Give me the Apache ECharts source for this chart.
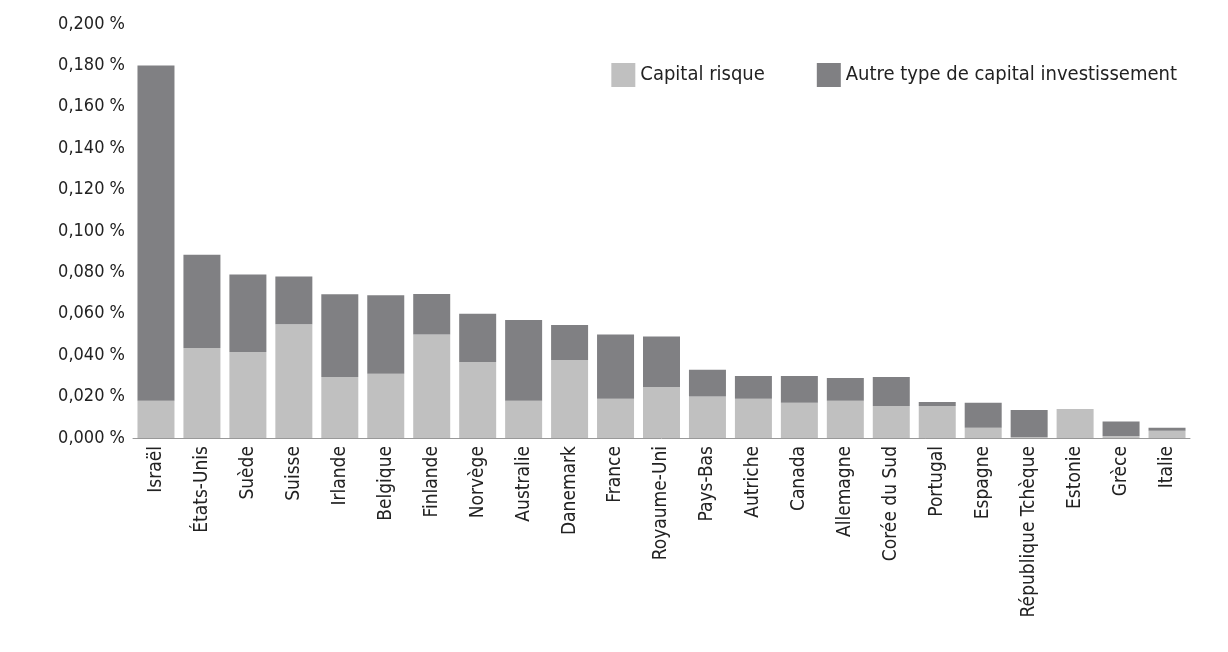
<!DOCTYPE html>
<html><head><meta charset="utf-8">
<script src="https://cdn.jsdelivr.net/npm/echarts@6/dist/echarts.min.js"></script>
<style>body{margin:0;background:#fff}#main{width:1228px;height:652px}</style>
</head><body>
<div id="main"></div>
<script>
var pays = ['Israël','États-Unis','Suède','Suisse','Irlande','Belgique','Finlande','Norvège','Australie','Danemark','France','Royaume-Uni','Pays-Bas','Autriche','Canada','Allemagne','Corée du Sud','Portugal','Espagne','République Tchèque','Estonie','Grèce','Italie'];
var capitalRisque = [0.018,0.0435,0.0415,0.055,0.0295,0.031,0.050,0.0367,0.018,0.0377,0.019,0.0246,0.020,0.019,0.017,0.018,0.0155,0.0155,0.005,0.0005,0.014,0.001,0.0035];
var autreType = [0.162,0.045,0.0375,0.023,0.040,0.038,0.0196,0.0233,0.039,0.0169,0.031,0.0244,0.013,0.011,0.013,0.011,0.014,0.0019,0.012,0.013,0,0.007,0.0015];
var ff = '"Liberation Sans Narrow","DejaVu Sans Condensed",sans-serif';
var chart = echarts.init(document.getElementById('main'));
chart.setOption({
  animation: false,
  textStyle: {fontFamily: ff},
  legend: {
    top: 58, right: 46, itemWidth: 24, itemHeight: 24, itemGap: 52, icon: 'rect',
    textStyle: {fontFamily: ff, fontSize: 20, color: '#222'},
    data: ['Capital risque', 'Autre type de capital investissement']
  },
  grid: {left: 133, right: 38, top: 24, bottom: 214},
  xAxis: {
    type: 'category', data: pays,
    axisTick: {show: false},
    axisLine: {lineStyle: {color: '#999'}},
    axisLabel: {rotate: 90, fontSize: 19, color: '#222', fontFamily: ff, interval: 0}
  },
  yAxis: {
    type: 'value', min: 0, max: 0.2, interval: 0.02,
    splitLine: {show: false},
    axisLine: {show: false}, axisTick: {show: false},
    axisLabel: {fontSize: 18, color: '#222', fontFamily: ff,
      formatter: function (v) { return v.toFixed(3).replace('.', ',') + ' %'; }}
  },
  series: [
    {name: 'Capital risque', type: 'bar', stack: 't', data: capitalRisque, barWidth: 37, itemStyle: {color: '#c0c0c0'}},
    {name: 'Autre type de capital investissement', type: 'bar', stack: 't', data: autreType, barWidth: 37, itemStyle: {color: '#808083'}}
  ]
});
</script>
</body></html>
